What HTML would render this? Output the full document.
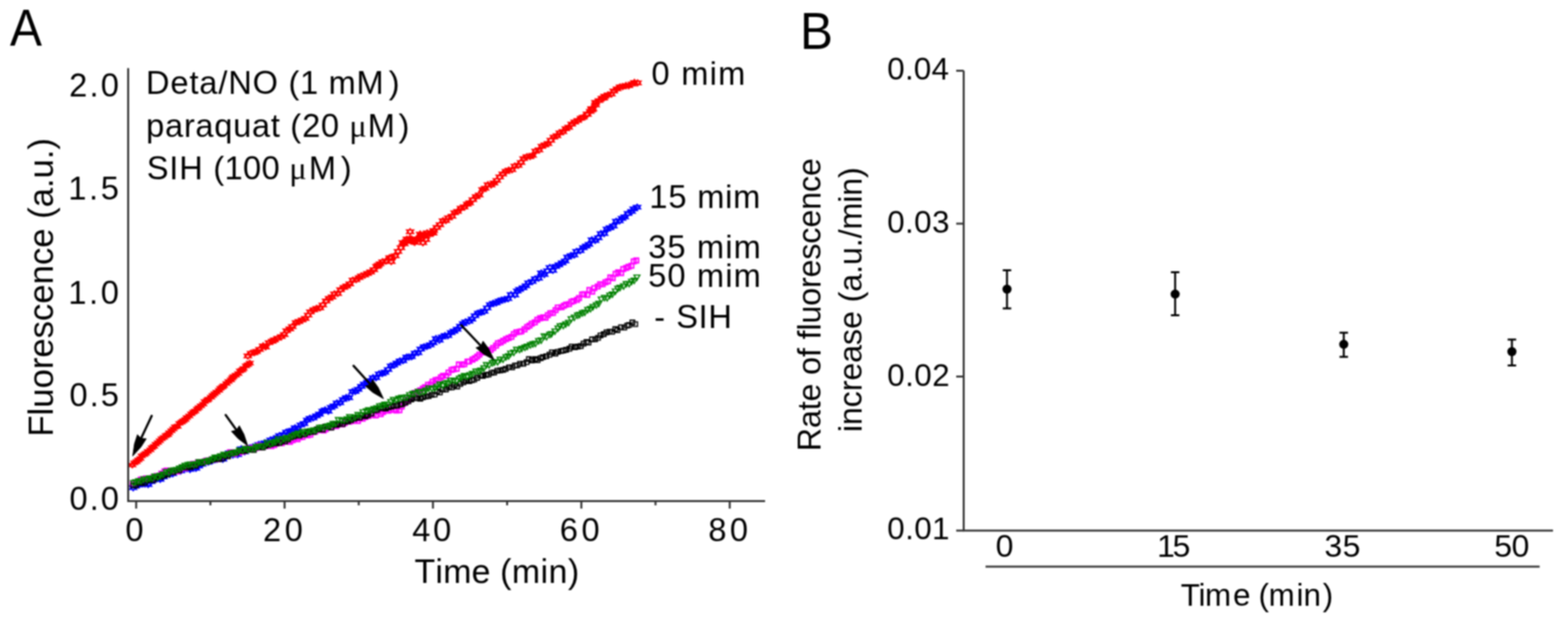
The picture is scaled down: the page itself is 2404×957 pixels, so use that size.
<!DOCTYPE html>
<html><head><meta charset="utf-8"><title>Figure</title>
<style>
html,body{margin:0;padding:0;background:#fff;}
svg{display:block;}
.wrap{filter:blur(1px);width:2404px;height:957px;overflow:hidden;}
text{font-family:"Liberation Sans", Arial, sans-serif;fill:#000;}
</style></head>
<body><div class="wrap">
<svg width="2404" height="957" viewBox="0 0 2404 957">
<rect width="2404" height="957" fill="#fff"/>
<g>
<path d="M202.9,709.5L207.4,715.4L198.4,715.4ZM202.9,717.0L207.4,711.1L198.4,711.1ZM205.9,706.2L210.4,712.1L201.4,712.1ZM205.9,713.7L210.4,707.8L201.4,707.8ZM209.4,704.2L213.9,710.2L204.9,710.2ZM209.4,711.8L213.9,705.8L204.9,705.8ZM212.1,701.6L216.6,707.5L207.6,707.5ZM212.1,709.2L216.6,703.2L207.6,703.2ZM215.2,699.2L219.7,705.2L210.7,705.2ZM215.2,706.8L219.7,700.9L210.7,700.9ZM217.3,695.4L221.8,701.3L212.8,701.3ZM217.3,702.9L221.8,697.0L212.8,697.0ZM221.1,693.4L225.6,699.3L216.6,699.3ZM221.1,700.9L225.6,695.0L216.6,695.0ZM223.7,691.2L228.2,697.2L219.2,697.2ZM223.7,698.8L228.2,692.9L219.2,692.9ZM226.7,688.6L231.2,694.5L222.2,694.5ZM226.7,696.1L231.2,690.2L222.2,690.2ZM230.5,686.1L235.0,692.0L226.0,692.0ZM230.5,693.6L235.0,687.7L226.0,687.7ZM232.9,682.8L237.4,688.7L228.4,688.7ZM232.9,690.4L237.4,684.4L228.4,684.4ZM236.1,680.9L240.6,686.8L231.6,686.8ZM236.1,688.4L240.6,682.5L231.6,682.5ZM238.8,677.5L243.3,683.4L234.3,683.4ZM238.8,685.0L243.3,679.1L234.3,679.1ZM242.1,675.0L246.6,680.9L237.6,680.9ZM242.1,682.5L246.6,676.6L237.6,676.6ZM245.0,672.0L249.5,678.0L240.5,678.0ZM245.0,679.6L249.5,673.6L240.5,673.6ZM247.9,669.1L252.4,675.1L243.4,675.1ZM247.9,676.7L252.4,670.8L243.4,670.8ZM251.2,667.1L255.7,673.1L246.7,673.1ZM251.2,674.7L255.7,668.8L246.7,668.8ZM254.3,664.2L258.8,670.2L249.8,670.2ZM254.3,671.8L258.8,665.8L249.8,665.8ZM257.6,662.8L262.1,668.8L253.1,668.8ZM257.6,670.4L262.1,664.4L253.1,664.4ZM259.5,659.8L264.0,665.7L255.0,665.7ZM259.5,667.4L264.0,661.4L255.0,661.4ZM262.8,656.8L267.3,662.8L258.3,662.8ZM262.8,664.4L267.3,658.4L258.3,658.4ZM265.8,654.0L270.3,660.0L261.3,660.0ZM265.8,661.6L270.3,655.7L261.3,655.7ZM268.4,650.9L272.9,656.8L263.9,656.8ZM268.4,658.5L272.9,652.5L263.9,652.5ZM272.2,650.0L276.7,656.0L267.7,656.0ZM272.2,657.6L276.7,651.7L267.7,651.7ZM275.1,645.5L279.6,651.4L270.6,651.4ZM275.1,653.0L279.6,647.1L270.6,647.1ZM278.4,643.6L282.9,649.5L273.9,649.5ZM278.4,651.1L282.9,645.2L273.9,645.2ZM281.1,641.6L285.6,647.5L276.6,647.5ZM281.1,649.1L285.6,643.2L276.6,643.2ZM284.2,639.7L288.7,645.6L279.7,645.6ZM284.2,647.3L288.7,641.3L279.7,641.3ZM286.4,636.6L290.9,642.5L281.9,642.5ZM286.4,644.1L290.9,638.2L281.9,638.2ZM290.2,634.2L294.7,640.1L285.7,640.1ZM290.2,641.7L294.7,635.8L285.7,635.8ZM293.3,630.8L297.8,636.7L288.8,636.7ZM293.3,638.3L297.8,632.4L288.8,632.4ZM296.4,628.4L300.9,634.3L291.9,634.3ZM296.4,636.0L300.9,630.0L291.9,630.0ZM299.2,626.7L303.7,632.6L294.7,632.6ZM299.2,634.2L303.7,628.3L294.7,628.3ZM302.3,623.4L306.8,629.4L297.8,629.4ZM302.3,631.0L306.8,625.1L297.8,625.1ZM304.7,621.2L309.2,627.2L300.2,627.2ZM304.7,628.8L309.2,622.9L300.2,622.9ZM308.0,618.6L312.5,624.5L303.5,624.5ZM308.0,626.1L312.5,620.2L303.5,620.2ZM311.6,615.9L316.1,621.9L307.1,621.9ZM311.6,623.5L316.1,617.6L307.1,617.6ZM313.9,612.2L318.4,618.1L309.4,618.1ZM313.9,619.7L318.4,613.8L309.4,613.8ZM317.6,610.1L322.1,616.0L313.1,616.0ZM317.6,617.7L322.1,611.7L313.1,611.7ZM319.5,608.3L324.0,614.2L315.0,614.2ZM319.5,615.8L324.0,609.9L315.0,609.9ZM323.5,605.4L328.0,611.3L319.0,611.3ZM323.5,612.9L328.0,607.0L319.0,607.0ZM326.1,602.6L330.6,608.6L321.6,608.6ZM326.1,610.2L330.6,604.2L321.6,604.2ZM328.9,600.1L333.4,606.1L324.4,606.1ZM328.9,607.7L333.4,601.7L324.4,601.7ZM332.0,597.5L336.5,603.5L327.5,603.5ZM332.0,605.1L336.5,599.1L327.5,599.1ZM335.8,594.9L340.3,600.8L331.3,600.8ZM335.8,602.5L340.3,596.5L331.3,596.5ZM337.9,591.8L342.4,597.7L333.4,597.7ZM337.9,599.4L342.4,593.4L333.4,593.4ZM340.9,589.9L345.4,595.8L336.4,595.8ZM340.9,597.4L345.4,591.5L336.4,591.5ZM343.0,587.7L347.5,593.7L338.5,593.7ZM343.0,595.3L347.5,589.4L338.5,589.4ZM347.2,584.3L351.7,590.3L342.7,590.3ZM347.2,591.9L351.7,586.0L342.7,586.0ZM350.3,581.4L354.8,587.3L345.8,587.3ZM350.3,588.9L354.8,583.0L345.8,583.0ZM354.0,578.7L358.5,584.7L349.5,584.7ZM354.0,586.3L358.5,580.4L349.5,580.4ZM356.0,576.1L360.5,582.1L351.5,582.1ZM356.0,583.7L360.5,577.7L351.5,577.7ZM357.9,573.8L362.4,579.7L353.4,579.7ZM357.9,581.3L362.4,575.4L353.4,575.4ZM361.5,571.7L366.0,577.6L357.0,577.6ZM361.5,579.3L366.0,573.3L357.0,573.3ZM365.3,569.1L369.8,575.0L360.8,575.0ZM365.3,576.6L369.8,570.7L360.8,570.7ZM367.9,565.1L372.4,571.1L363.4,571.1ZM367.9,572.7L372.4,566.7L363.4,566.7ZM371.4,563.7L375.9,569.6L366.9,569.6ZM371.4,571.2L375.9,565.3L366.9,565.3ZM373.4,561.3L377.9,567.3L368.9,567.3ZM373.4,568.9L377.9,562.9L368.9,562.9ZM377.1,557.4L381.6,563.4L372.6,563.4ZM377.1,565.0L381.6,559.0L372.6,559.0ZM380.1,555.5L384.6,561.4L375.6,561.4ZM380.1,563.0L384.6,557.1L375.6,557.1ZM383.0,553.0L387.5,559.0L378.5,559.0ZM383.0,560.6L387.5,554.6L378.5,554.6Z" fill="none" stroke="#ff0000" stroke-width="2.4"/>
<path d="M379.9,541.4L385.4,548.6L374.4,548.6ZM379.9,550.6L385.4,543.3L374.4,543.3ZM385.0,537.2L390.5,544.5L379.5,544.5ZM385.0,546.4L390.5,539.2L379.5,539.2ZM389.5,536.2L395.0,543.5L384.0,543.5ZM389.5,545.5L395.0,538.2L384.0,538.2ZM393.2,534.5L398.7,541.7L387.7,541.7ZM393.2,543.7L398.7,536.5L387.7,536.5ZM398.0,531.4L403.5,538.6L392.5,538.6ZM398.0,540.6L403.5,533.3L392.5,533.3ZM403.5,525.9L409.0,533.1L398.0,533.1ZM403.5,535.1L409.0,527.9L398.0,527.9ZM407.2,527.4L412.7,534.7L401.7,534.7ZM407.2,536.7L412.7,529.4L401.7,529.4ZM412.5,520.9L418.0,528.1L407.0,528.1ZM412.5,530.1L418.0,522.9L407.0,522.9ZM417.4,518.7L422.9,526.0L411.9,526.0ZM417.4,527.9L422.9,520.7L411.9,520.7ZM420.6,516.8L426.1,524.0L415.1,524.0ZM420.6,526.0L426.1,518.8L415.1,518.8ZM425.8,514.2L431.3,521.4L420.3,521.4ZM425.8,523.4L431.3,516.1L420.3,516.1ZM431.2,511.6L436.7,518.9L425.7,518.9ZM431.2,520.9L436.7,513.6L425.7,513.6ZM435.8,508.5L441.3,515.7L430.3,515.7ZM435.8,517.7L441.3,510.4L430.3,510.4ZM439.5,502.6L445.0,509.9L434.0,509.9ZM439.5,511.8L445.0,504.6L434.0,504.6ZM444.4,499.8L449.9,507.0L438.9,507.0ZM444.4,509.0L449.9,501.8L438.9,501.8ZM448.1,496.2L453.6,503.5L442.6,503.5ZM448.1,505.5L453.6,498.2L442.6,498.2ZM453.9,490.4L459.4,497.6L448.4,497.6ZM453.9,499.6L459.4,492.3L448.4,492.3ZM458.2,488.5L463.7,495.8L452.7,495.8ZM458.2,497.8L463.7,490.5L452.7,490.5ZM463.3,486.2L468.8,493.4L457.8,493.4ZM463.3,495.4L468.8,488.1L457.8,488.1ZM468.0,483.8L473.5,491.1L462.5,491.1ZM468.0,493.0L473.5,485.8L462.5,485.8ZM472.4,478.6L477.9,485.9L466.9,485.9ZM472.4,487.9L477.9,480.6L466.9,480.6ZM475.8,473.7L481.3,481.0L470.3,481.0ZM475.8,483.0L481.3,475.7L470.3,475.7ZM481.2,470.5L486.7,477.7L475.7,477.7ZM481.2,479.7L486.7,472.5L475.7,472.5ZM485.6,468.4L491.1,475.7L480.1,475.7ZM485.6,477.7L491.1,470.4L480.1,470.4ZM490.4,467.4L495.9,474.7L484.9,474.7ZM490.4,476.6L495.9,469.4L484.9,469.4ZM494.9,463.1L500.4,470.3L489.4,470.3ZM494.9,472.3L500.4,465.1L489.4,465.1ZM500.0,457.1L505.5,464.3L494.5,464.3ZM500.0,466.3L505.5,459.0L494.5,459.0ZM504.6,452.9L510.1,460.2L499.1,460.2ZM504.6,462.2L510.1,454.9L499.1,454.9ZM509.1,450.8L514.6,458.0L503.6,458.0ZM509.1,460.0L514.6,452.7L503.6,452.7ZM512.8,446.1L518.3,453.4L507.3,453.4ZM512.8,455.4L518.3,448.1L507.3,448.1ZM517.8,445.5L523.3,452.7L512.3,452.7ZM517.8,454.7L523.3,447.4L512.3,447.4ZM522.0,439.8L527.5,447.0L516.5,447.0ZM522.0,449.0L527.5,441.8L516.5,441.8ZM527.3,436.1L532.8,443.4L521.8,443.4ZM527.3,445.4L532.8,438.1L521.8,438.1ZM531.5,434.1L537.0,441.3L526.0,441.3ZM531.5,443.3L537.0,436.0L526.0,436.0ZM536.3,430.9L541.8,438.1L530.8,438.1ZM536.3,440.1L541.8,432.8L530.8,432.8ZM541.1,425.0L546.6,432.3L535.6,432.3ZM541.1,434.3L546.6,427.0L535.6,427.0ZM545.9,424.2L551.4,431.5L540.4,431.5ZM545.9,433.5L551.4,426.2L540.4,426.2ZM550.7,421.1L556.2,428.3L545.2,428.3ZM550.7,430.3L556.2,423.1L545.2,423.1ZM554.0,418.6L559.5,425.9L548.5,425.9ZM554.0,427.9L559.5,420.6L548.5,420.6ZM559.3,417.1L564.8,424.4L553.8,424.4ZM559.3,426.4L564.8,419.1L553.8,419.1ZM563.3,414.7L568.8,422.0L557.8,422.0ZM563.3,423.9L568.8,416.7L557.8,416.7ZM568.2,412.5L573.7,419.7L562.7,419.7ZM568.2,421.7L573.7,414.4L562.7,414.4ZM573.2,409.0L578.7,416.2L567.7,416.2ZM573.2,418.2L578.7,410.9L567.7,410.9ZM577.4,404.2L582.9,411.4L571.9,411.4ZM577.4,413.4L582.9,406.1L571.9,406.1ZM582.7,400.0L588.2,407.3L577.2,407.3ZM582.7,409.3L588.2,402.0L577.2,402.0ZM586.6,396.9L592.1,404.2L581.1,404.2ZM586.6,406.1L592.1,398.9L581.1,398.9ZM591.6,395.7L597.1,402.9L586.1,402.9ZM591.6,404.9L597.1,397.7L586.1,397.7ZM597.3,390.6L602.8,397.9L591.8,397.9ZM597.3,399.8L602.8,392.6L591.8,392.6ZM599.8,390.6L605.3,397.8L594.3,397.8ZM599.8,399.8L605.3,392.5L594.3,392.5ZM606.1,387.8L611.6,395.0L600.6,395.0ZM606.1,397.0L611.6,389.8L600.6,389.8ZM610.2,381.0L615.7,388.2L604.7,388.2ZM610.2,390.2L615.7,383.0L604.7,383.0ZM614.7,375.3L620.2,382.6L609.2,382.6ZM614.7,384.6L620.2,377.3L609.2,377.3ZM619.9,369.3L625.4,376.5L614.4,376.5ZM619.9,378.5L625.4,371.3L614.4,371.3ZM623.9,362.1L629.4,369.3L618.4,369.3ZM623.9,371.3L629.4,364.0L618.4,364.0ZM628.0,361.7L633.5,369.0L622.5,369.0ZM628.0,371.0L633.5,363.7L622.5,363.7ZM632.5,363.7L638.0,370.9L627.0,370.9ZM632.5,372.9L638.0,365.6L627.0,365.6ZM638.0,363.0L643.5,370.3L632.5,370.3ZM638.0,372.3L643.5,365.0L632.5,365.0ZM641.9,361.8L647.4,369.0L636.4,369.0ZM641.9,371.0L647.4,363.7L636.4,363.7ZM646.5,357.0L652.0,364.3L641.0,364.3ZM646.5,366.3L652.0,359.0L641.0,359.0ZM651.1,357.8L656.6,365.1L645.6,365.1ZM651.1,367.0L656.6,359.8L645.6,359.8ZM656.2,354.9L661.7,362.2L650.7,362.2ZM656.2,364.1L661.7,356.9L650.7,356.9ZM660.5,352.1L666.0,359.4L655.0,359.4ZM660.5,361.3L666.0,354.1L655.0,354.1ZM664.9,349.0L670.4,356.3L659.4,356.3ZM664.9,358.3L670.4,351.0L659.4,351.0ZM669.8,344.3L675.3,351.5L664.3,351.5ZM669.8,353.5L675.3,346.3L664.3,346.3ZM674.5,340.0L680.0,347.2L669.0,347.2ZM674.5,349.2L680.0,342.0L669.0,342.0ZM679.2,333.9L684.7,341.2L673.7,341.2ZM679.2,343.2L684.7,335.9L673.7,335.9ZM683.5,333.7L689.0,340.9L678.0,340.9ZM683.5,342.9L689.0,335.7L678.0,335.7ZM687.4,329.5L692.9,336.8L681.9,336.8ZM687.4,338.7L692.9,331.5L681.9,331.5ZM693.1,327.0L698.6,334.3L687.6,334.3ZM693.1,336.3L698.6,329.0L687.6,329.0ZM697.0,321.6L702.5,328.8L691.5,328.8ZM697.0,330.8L702.5,323.6L691.5,323.6ZM701.5,319.6L707.0,326.9L696.0,326.9ZM701.5,328.8L707.0,321.6L696.0,321.6ZM706.8,314.8L712.3,322.1L701.3,322.1ZM706.8,324.1L712.3,316.8L701.3,316.8ZM711.5,312.8L717.0,320.1L706.0,320.1ZM711.5,322.1L717.0,314.8L706.0,314.8ZM716.5,308.6L722.0,315.8L711.0,315.8ZM716.5,317.8L722.0,310.5L711.0,310.5ZM720.0,306.4L725.5,313.7L714.5,313.7ZM720.0,315.6L725.5,308.4L714.5,308.4ZM724.9,301.6L730.4,308.9L719.4,308.9ZM724.9,310.9L730.4,303.6L719.4,303.6ZM730.0,296.9L735.5,304.2L724.5,304.2ZM730.0,306.2L735.5,298.9L724.5,298.9ZM734.7,294.4L740.2,301.6L729.2,301.6ZM734.7,303.6L740.2,296.4L729.2,296.4ZM739.8,286.1L745.3,293.4L734.3,293.4ZM739.8,295.4L745.3,288.1L734.3,288.1ZM743.8,284.2L749.3,291.4L738.3,291.4ZM743.8,293.4L749.3,286.1L738.3,286.1ZM748.1,278.7L753.6,286.0L742.6,286.0ZM748.1,288.0L753.6,280.7L742.6,280.7ZM752.9,279.1L758.4,286.4L747.4,286.4ZM752.9,288.4L758.4,281.1L747.4,281.1ZM757.4,276.0L762.9,283.3L751.9,283.3ZM757.4,285.3L762.9,278.0L751.9,278.0ZM761.7,272.1L767.2,279.3L756.2,279.3ZM761.7,281.3L767.2,274.1L756.2,274.1ZM766.1,266.8L771.6,274.1L760.6,274.1ZM766.1,276.1L771.6,268.8L760.6,268.8ZM770.8,262.2L776.3,269.5L765.3,269.5ZM770.8,271.4L776.3,264.2L765.3,264.2ZM775.8,258.3L781.3,265.6L770.3,265.6ZM775.8,267.5L781.3,260.3L770.3,260.3ZM780.1,256.4L785.6,263.6L774.6,263.6ZM780.1,265.6L785.6,258.4L774.6,258.4ZM785.0,255.7L790.5,262.9L779.5,262.9ZM785.0,264.9L790.5,257.7L779.5,257.7ZM789.3,250.1L794.8,257.4L783.8,257.4ZM789.3,259.3L794.8,252.1L783.8,252.1ZM794.4,248.9L799.9,256.2L788.9,256.2ZM794.4,258.2L799.9,250.9L788.9,250.9ZM798.9,244.6L804.4,251.9L793.4,251.9ZM798.9,253.9L804.4,246.6L793.4,246.6ZM802.8,238.7L808.3,245.9L797.3,245.9ZM802.8,247.9L808.3,240.7L797.3,240.7ZM807.8,235.9L813.3,243.1L802.3,243.1ZM807.8,245.1L813.3,237.8L802.3,237.8ZM812.7,235.5L818.2,242.8L807.2,242.8ZM812.7,244.7L818.2,237.5L807.2,237.5ZM816.5,233.6L822.0,240.9L811.0,240.9ZM816.5,242.9L822.0,235.6L811.0,235.6ZM821.2,227.2L826.7,234.5L815.7,234.5ZM821.2,236.5L826.7,229.2L815.7,229.2ZM826.4,225.3L831.9,232.6L820.9,232.6ZM826.4,234.5L831.9,227.3L820.9,227.3ZM830.8,219.7L836.3,227.0L825.3,227.0ZM830.8,229.0L836.3,221.7L825.3,221.7ZM835.4,217.6L840.9,224.9L829.9,224.9ZM835.4,226.9L840.9,219.6L829.9,219.6ZM840.1,215.4L845.6,222.7L834.6,222.7ZM840.1,224.7L845.6,217.4L834.6,217.4ZM844.5,210.4L850.0,217.7L839.0,217.7ZM844.5,219.6L850.0,212.4L839.0,212.4ZM849.2,205.7L854.7,212.9L843.7,212.9ZM849.2,214.9L854.7,207.6L843.7,207.6ZM853.9,203.4L859.4,210.7L848.4,210.7ZM853.9,212.7L859.4,205.4L848.4,205.4ZM858.3,199.1L863.8,206.4L852.8,206.4ZM858.3,208.4L863.8,201.1L852.8,201.1ZM863.0,197.3L868.5,204.6L857.5,204.6ZM863.0,206.6L868.5,199.3L857.5,199.3ZM867.6,192.8L873.1,200.1L862.1,200.1ZM867.6,202.0L873.1,194.8L862.1,194.8ZM871.9,190.5L877.4,197.7L866.4,197.7ZM871.9,199.7L877.4,192.5L866.4,192.5ZM876.5,185.8L882.0,193.0L871.0,193.0ZM876.5,195.0L882.0,187.8L871.0,187.8ZM881.2,182.4L886.7,189.7L875.7,189.7ZM881.2,191.7L886.7,184.4L875.7,184.4ZM885.8,180.1L891.3,187.4L880.3,187.4ZM885.8,189.3L891.3,182.1L880.3,182.1ZM891.0,176.7L896.5,183.9L885.5,183.9ZM891.0,185.9L896.5,178.7L885.5,178.7ZM894.2,175.2L899.7,182.4L888.7,182.4ZM894.2,184.4L899.7,177.1L888.7,177.1ZM900.0,170.3L905.5,177.5L894.5,177.5ZM900.0,179.5L905.5,172.3L894.5,172.3ZM904.9,166.3L910.4,173.6L899.4,173.6ZM904.9,175.6L910.4,168.3L899.4,168.3ZM909.2,162.2L914.7,169.5L903.7,169.5ZM909.2,171.5L914.7,164.2L903.7,164.2ZM913.2,156.3L918.7,163.6L907.7,163.6ZM913.2,165.6L918.7,158.3L907.7,158.3ZM918.3,149.6L923.8,156.9L912.8,156.9ZM918.3,158.8L923.8,151.6L912.8,151.6ZM922.8,146.2L928.3,153.4L917.3,153.4ZM922.8,155.4L928.3,148.2L917.3,148.2ZM927.1,143.0L932.6,150.2L921.6,150.2ZM927.1,152.2L932.6,145.0L921.6,145.0ZM932.3,141.0L937.8,148.3L926.8,148.3ZM932.3,150.3L937.8,143.0L926.8,143.0ZM937.3,139.5L942.8,146.8L931.8,146.8ZM937.3,148.8L942.8,141.5L931.8,141.5ZM941.0,135.0L946.5,142.2L935.5,142.2ZM941.0,144.2L946.5,136.9L935.5,136.9ZM946.1,131.6L951.6,138.9L940.6,138.9ZM946.1,140.9L951.6,133.6L940.6,133.6ZM950.7,128.8L956.2,136.0L945.2,136.0ZM950.7,138.0L956.2,130.8L945.2,130.8ZM954.7,128.3L960.2,135.5L949.2,135.5ZM954.7,137.5L960.2,130.2L949.2,130.2ZM959.7,126.6L965.2,133.9L954.2,133.9ZM959.7,135.9L965.2,128.6L954.2,128.6ZM964.0,126.8L969.5,134.1L958.5,134.1ZM964.0,136.1L969.5,128.8L958.5,128.8ZM969.1,124.3L974.6,131.6L963.6,131.6ZM969.1,133.5L974.6,126.3L963.6,126.3ZM972.7,121.9L978.2,129.2L967.2,129.2ZM972.7,131.1L978.2,123.9L967.2,123.9ZM977.5,122.5L983.0,129.7L972.0,129.7ZM977.5,131.7L983.0,124.4L972.0,124.4ZM648.4,367.7L653.9,374.9L642.9,374.9ZM648.4,376.9L653.9,369.7L642.9,369.7ZM644.1,354.4L649.6,361.7L638.6,361.7ZM644.1,363.7L649.6,356.4L638.6,356.4ZM653.1,362.7L658.6,370.0L647.6,370.0ZM653.1,372.0L658.6,364.7L647.6,364.7ZM638.9,363.2L644.4,370.5L633.4,370.5ZM638.9,372.5L644.4,365.2L633.4,365.2ZM654.9,352.5L660.4,359.7L649.4,359.7ZM654.9,361.7L660.4,354.4L649.4,354.4ZM617.6,367.4L623.1,374.7L612.1,374.7ZM617.6,376.7L623.1,369.4L612.1,369.4ZM664.1,352.8L669.6,360.1L658.6,360.1ZM664.1,362.1L669.6,354.8L658.6,354.8ZM633.2,365.8L638.7,373.0L627.7,373.0ZM633.2,375.0L638.7,367.8L627.7,367.8ZM630.8,361.8L636.3,369.0L625.3,369.0ZM630.8,371.0L636.3,363.8L625.3,363.8ZM628.8,350.7L634.3,358.0L623.3,358.0ZM628.8,360.0L634.3,352.7L623.3,352.7ZM649.8,355.9L655.3,363.2L644.3,363.2ZM649.8,365.2L655.3,357.9L644.3,357.9ZM635.9,367.1L641.4,374.3L630.4,374.3ZM635.9,376.3L641.4,369.0L630.4,369.0ZM623.9,365.6L629.4,372.9L618.4,372.9ZM623.9,374.9L629.4,367.6L618.4,367.6ZM663.0,352.6L668.5,359.8L657.5,359.8ZM663.0,361.8L668.5,354.5L657.5,354.5ZM579.9,402.2L585.4,409.5L574.4,409.5ZM579.9,411.4L585.4,404.2L574.4,404.2ZM599.9,396.6L605.4,403.8L594.4,403.8ZM599.9,405.8L605.4,398.5L594.4,398.5ZM578.0,403.9L583.5,411.2L572.5,411.2ZM578.0,413.2L583.5,405.9L572.5,405.9ZM563.6,414.7L569.1,422.0L558.1,422.0ZM563.6,423.9L569.1,416.7L558.1,416.7ZM907.4,164.0L912.9,171.3L901.9,171.3ZM907.4,173.2L912.9,166.0L901.9,166.0ZM900.7,170.8L906.2,178.1L895.2,178.1ZM900.7,180.1L906.2,172.8L895.2,172.8ZM925.6,145.9L931.1,153.1L920.1,153.1ZM925.6,155.1L931.1,147.8L920.1,147.8ZM913.0,152.5L918.5,159.8L907.5,159.8ZM913.0,161.8L918.5,154.5L907.5,154.5ZM913.1,152.8L918.6,160.1L907.6,160.1ZM913.1,162.1L918.6,154.8L907.6,154.8ZM907.1,162.0L912.6,169.3L901.6,169.3ZM907.1,171.3L912.6,164.0L901.6,164.0Z" fill="none" stroke="#ff0000" stroke-width="1.9"/>
<path d="M204.2,743.3L209.7,750.6L198.7,750.6ZM204.2,752.6L209.7,745.3L198.7,745.3ZM208.6,739.2L214.1,746.5L203.1,746.5ZM208.6,748.4L214.1,741.2L203.1,741.2ZM213.2,739.1L218.7,746.4L207.7,746.4ZM213.2,748.4L218.7,741.1L207.7,741.1ZM218.1,737.5L223.6,744.8L212.6,744.8ZM218.1,746.7L223.6,739.5L212.6,739.5ZM222.5,737.5L228.0,744.8L217.0,744.8ZM222.5,746.8L228.0,739.5L217.0,739.5ZM227.1,738.4L232.6,745.7L221.6,745.7ZM227.1,747.7L232.6,740.4L221.6,740.4ZM231.6,734.1L237.1,741.4L226.1,741.4ZM231.6,743.4L237.1,736.1L226.1,736.1ZM236.8,730.7L242.3,738.0L231.3,738.0ZM236.8,739.9L242.3,732.7L231.3,732.7ZM241.1,729.5L246.6,736.8L235.6,736.8ZM241.1,738.8L246.6,731.5L235.6,731.5ZM245.5,730.6L251.0,737.9L240.0,737.9ZM245.5,739.8L251.0,732.6L240.0,732.6ZM250.6,726.8L256.1,734.1L245.1,734.1ZM250.6,736.0L256.1,728.8L245.1,728.8ZM254.1,723.6L259.6,730.9L248.6,730.9ZM254.1,732.9L259.6,725.6L248.6,725.6ZM259.9,723.1L265.4,730.4L254.4,730.4ZM259.9,732.3L265.4,725.1L254.4,725.1ZM264.7,721.8L270.2,729.1L259.2,729.1ZM264.7,731.1L270.2,723.8L259.2,723.8ZM268.6,718.7L274.1,725.9L263.1,725.9ZM268.6,727.9L274.1,720.7L263.1,720.7ZM272.5,717.1L278.0,724.4L267.0,724.4ZM272.5,726.4L278.0,719.1L267.0,719.1ZM277.1,717.6L282.6,724.8L271.6,724.8ZM277.1,726.8L282.6,719.5L271.6,719.5ZM282.4,714.7L287.9,722.0L276.9,722.0ZM282.4,724.0L287.9,716.7L276.9,716.7ZM286.7,713.9L292.2,721.2L281.2,721.2ZM286.7,723.1L292.2,715.9L281.2,715.9ZM291.3,715.3L296.8,722.6L285.8,722.6ZM291.3,724.6L296.8,717.3L285.8,717.3ZM296.0,711.4L301.5,718.7L290.5,718.7ZM296.0,720.7L301.5,713.4L290.5,713.4ZM300.4,713.6L305.9,720.8L294.9,720.8ZM300.4,722.8L305.9,715.6L294.9,715.6ZM304.6,710.1L310.1,717.3L299.1,717.3ZM304.6,719.3L310.1,712.1L299.1,712.1ZM309.9,707.3L315.4,714.5L304.4,714.5ZM309.9,716.5L315.4,709.3L304.4,709.3ZM314.4,703.1L319.9,710.4L308.9,710.4ZM314.4,712.4L319.9,705.1L308.9,705.1ZM319.4,703.9L324.9,711.2L313.9,711.2ZM319.4,713.1L324.9,705.9L313.9,705.9ZM323.8,702.2L329.3,709.5L318.3,709.5ZM323.8,711.4L329.3,704.2L318.3,704.2ZM328.2,699.6L333.7,706.9L322.7,706.9ZM328.2,708.8L333.7,701.6L322.7,701.6ZM332.9,699.7L338.4,706.9L327.4,706.9ZM332.9,708.9L338.4,701.7L327.4,701.7ZM338.1,698.5L343.6,705.8L332.6,705.8ZM338.1,707.8L343.6,700.5L332.6,700.5ZM341.7,699.6L347.2,706.9L336.2,706.9ZM341.7,708.9L347.2,701.6L336.2,701.6ZM347.0,695.3L352.5,702.6L341.5,702.6ZM347.0,704.6L352.5,697.3L341.5,697.3ZM351.4,690.0L356.9,697.3L345.9,697.3ZM351.4,699.3L356.9,692.0L345.9,692.0ZM356.9,693.3L362.4,700.5L351.4,700.5ZM356.9,702.5L362.4,695.2L351.4,695.2ZM360.8,691.6L366.3,698.9L355.3,698.9ZM360.8,700.9L366.3,693.6L355.3,693.6ZM364.5,692.5L370.0,699.8L359.0,699.8ZM364.5,701.8L370.0,694.5L359.0,694.5ZM369.9,683.8L375.4,691.0L364.4,691.0ZM369.9,693.0L375.4,685.7L364.4,685.7ZM375.1,688.3L380.6,695.5L369.6,695.5ZM375.1,697.5L380.6,690.3L369.6,690.3ZM378.6,685.3L384.1,692.6L373.1,692.6ZM378.6,694.6L384.1,687.3L373.1,687.3ZM383.7,682.2L389.2,689.4L378.2,689.4ZM383.7,691.4L389.2,684.1L378.2,684.1ZM387.9,680.9L393.4,688.2L382.4,688.2ZM387.9,690.2L393.4,682.9L382.4,682.9ZM392.5,679.9L398.0,687.2L387.0,687.2ZM392.5,689.1L398.0,681.9L387.0,681.9ZM396.7,677.1L402.2,684.3L391.2,684.3ZM396.7,686.3L402.2,679.1L391.2,679.1ZM401.4,676.5L406.9,683.8L395.9,683.8ZM401.4,685.8L406.9,678.5L395.9,678.5ZM405.8,674.6L411.3,681.9L400.3,681.9ZM405.8,683.9L411.3,676.6L400.3,676.6ZM411.4,673.3L416.9,680.6L405.9,680.6ZM411.4,682.5L416.9,675.3L405.9,675.3ZM415.0,670.2L420.5,677.5L409.5,677.5ZM415.0,679.4L420.5,672.2L409.5,672.2ZM420.1,668.6L425.6,675.9L414.6,675.9ZM420.1,677.8L425.6,670.6L414.6,670.6ZM425.1,666.4L430.6,673.7L419.6,673.7ZM425.1,675.7L430.6,668.4L419.6,668.4ZM428.5,663.6L434.0,670.8L423.0,670.8ZM428.5,672.8L434.0,665.5L423.0,665.5ZM434.5,661.9L440.0,669.2L429.0,669.2ZM434.5,671.1L440.0,663.9L429.0,663.9ZM439.2,658.2L444.7,665.5L433.7,665.5ZM439.2,667.5L444.7,660.2L433.7,660.2ZM443.9,657.0L449.4,664.3L438.4,664.3ZM443.9,666.2L449.4,659.0L438.4,659.0ZM447.5,655.6L453.0,662.8L442.0,662.8ZM447.5,664.8L453.0,657.6L442.0,657.6ZM452.4,651.5L457.9,658.7L446.9,658.7ZM452.4,660.7L457.9,653.5L446.9,653.5ZM456.7,653.0L462.2,660.3L451.2,660.3ZM456.7,662.3L462.2,655.0L451.2,655.0ZM461.2,647.2L466.7,654.4L455.7,654.4ZM461.2,656.4L466.7,649.2L455.7,649.2ZM466.1,644.9L471.6,652.2L460.6,652.2ZM466.1,654.2L471.6,646.9L460.6,646.9ZM471.1,639.6L476.6,646.8L465.6,646.8ZM471.1,648.8L476.6,641.6L465.6,641.6ZM475.2,636.9L480.7,644.2L469.7,644.2ZM475.2,646.2L480.7,638.9L469.7,638.9ZM480.0,636.2L485.5,643.5L474.5,643.5ZM480.0,645.5L485.5,638.2L474.5,638.2ZM485.2,633.1L490.7,640.4L479.7,640.4ZM485.2,642.3L490.7,635.1L479.7,635.1ZM489.7,630.5L495.2,637.7L484.2,637.7ZM489.7,639.7L495.2,632.5L484.2,632.5ZM494.8,626.0L500.3,633.2L489.3,633.2ZM494.8,635.2L500.3,628.0L489.3,628.0ZM498.4,624.1L503.9,631.4L492.9,631.4ZM498.4,633.4L503.9,626.1L492.9,626.1ZM503.3,625.9L508.8,633.2L497.8,633.2ZM503.3,635.1L508.8,627.9L497.8,627.9ZM507.6,620.2L513.1,627.5L502.1,627.5ZM507.6,629.5L513.1,622.2L502.1,622.2ZM511.8,618.0L517.3,625.2L506.3,625.2ZM511.8,627.2L517.3,619.9L506.3,619.9ZM516.7,613.4L522.2,620.7L511.2,620.7ZM516.7,622.7L522.2,615.4L511.2,615.4ZM521.1,613.2L526.6,620.4L515.6,620.4ZM521.1,622.4L526.6,615.1L515.6,615.1ZM526.0,608.1L531.5,615.4L520.5,615.4ZM526.0,617.4L531.5,610.1L520.5,610.1ZM530.9,605.1L536.4,612.4L525.4,612.4ZM530.9,614.3L536.4,607.1L525.4,607.1ZM534.9,605.3L540.4,612.5L529.4,612.5ZM534.9,614.5L540.4,607.2L529.4,607.2ZM540.6,595.9L546.1,603.2L535.1,603.2ZM540.6,605.2L546.1,597.9L535.1,597.9ZM544.6,595.7L550.1,603.0L539.1,603.0ZM544.6,605.0L550.1,597.7L539.1,597.7ZM549.0,592.4L554.5,599.7L543.5,599.7ZM549.0,601.7L554.5,594.4L543.5,594.4ZM554.1,587.9L559.6,595.2L548.6,595.2ZM554.1,597.2L559.6,589.9L548.6,589.9ZM558.3,584.5L563.8,591.8L552.8,591.8ZM558.3,593.8L563.8,586.5L552.8,586.5ZM563.3,581.7L568.8,588.9L557.8,588.9ZM563.3,590.9L568.8,583.6L557.8,583.6ZM567.2,579.3L572.7,586.6L561.7,586.6ZM567.2,588.5L572.7,581.3L561.7,581.3ZM572.0,574.6L577.5,581.9L566.5,581.9ZM572.0,583.9L577.5,576.6L566.5,576.6ZM576.5,574.6L582.0,581.9L571.0,581.9ZM576.5,583.9L582.0,576.6L571.0,576.6ZM581.3,568.9L586.8,576.2L575.8,576.2ZM581.3,578.1L586.8,570.9L575.8,570.9ZM586.0,568.2L591.5,575.5L580.5,575.5ZM586.0,577.4L591.5,570.2L580.5,570.2ZM590.2,566.3L595.7,573.6L584.7,573.6ZM590.2,575.5L595.7,568.3L584.7,568.3ZM595.0,562.1L600.5,569.4L589.5,569.4ZM595.0,571.3L600.5,564.1L589.5,564.1ZM599.5,556.7L605.0,564.0L594.0,564.0ZM599.5,566.0L605.0,558.7L594.0,558.7ZM603.7,555.4L609.2,562.6L598.2,562.6ZM603.7,564.6L609.2,557.4L598.2,557.4ZM608.4,552.3L613.9,559.5L602.9,559.5ZM608.4,561.5L613.9,554.2L602.9,554.2ZM613.3,548.9L618.8,556.2L607.8,556.2ZM613.3,558.2L618.8,550.9L607.8,550.9ZM617.7,548.4L623.2,555.7L612.2,555.7ZM617.7,557.7L623.2,550.4L612.2,550.4ZM623.5,543.0L629.0,550.3L618.0,550.3ZM623.5,552.3L629.0,545.0L618.0,545.0ZM626.9,542.9L632.4,550.2L621.4,550.2ZM626.9,552.1L632.4,544.9L621.4,544.9ZM630.8,542.3L636.3,549.6L625.3,549.6ZM630.8,551.6L636.3,544.3L625.3,544.3ZM636.4,537.0L641.9,544.2L630.9,544.2ZM636.4,546.2L641.9,538.9L630.9,538.9ZM641.0,536.2L646.5,543.5L635.5,543.5ZM641.0,545.5L646.5,538.2L635.5,538.2ZM644.9,530.8L650.4,538.0L639.4,538.0ZM644.9,540.0L650.4,532.7L639.4,532.7ZM650.3,527.3L655.8,534.5L644.8,534.5ZM650.3,536.5L655.8,529.2L644.8,529.2ZM654.2,526.7L659.7,533.9L648.7,533.9ZM654.2,535.9L659.7,528.6L648.7,528.6ZM659.7,524.4L665.2,531.6L654.2,531.6ZM659.7,533.6L665.2,526.3L654.2,526.3ZM664.2,520.9L669.7,528.2L658.7,528.2ZM664.2,530.2L669.7,522.9L658.7,522.9ZM668.5,514.7L674.0,522.0L663.0,522.0ZM668.5,523.9L674.0,516.7L663.0,516.7ZM673.6,517.1L679.1,524.4L668.1,524.4ZM673.6,526.4L679.1,519.1L668.1,519.1ZM678.0,512.1L683.5,519.4L672.5,519.4ZM678.0,521.3L683.5,514.1L672.5,514.1ZM682.3,510.1L687.8,517.3L676.8,517.3ZM682.3,519.3L687.8,512.0L676.8,512.0ZM686.8,510.1L692.3,517.4L681.3,517.4ZM686.8,519.4L692.3,512.1L681.3,512.1ZM691.7,505.5L697.2,512.8L686.2,512.8ZM691.7,514.7L697.2,507.5L686.2,507.5ZM695.9,503.3L701.4,510.5L690.4,510.5ZM695.9,512.5L701.4,505.3L690.4,505.3ZM700.9,500.4L706.4,507.6L695.4,507.6ZM700.9,509.6L706.4,502.3L695.4,502.3ZM705.8,495.8L711.3,503.1L700.3,503.1ZM705.8,505.0L711.3,497.8L700.3,497.8ZM710.2,491.8L715.7,499.1L704.7,499.1ZM710.2,501.1L715.7,493.8L704.7,493.8ZM713.8,489.1L719.3,496.3L708.3,496.3ZM713.8,498.3L719.3,491.1L708.3,491.1ZM719.2,488.0L724.7,495.3L713.7,495.3ZM719.2,497.2L724.7,490.0L713.7,490.0ZM723.6,484.7L729.1,492.0L718.1,492.0ZM723.6,493.9L729.1,486.7L718.1,486.7ZM728.2,479.6L733.7,486.8L722.7,486.8ZM728.2,488.8L733.7,481.6L722.7,481.6ZM733.3,475.7L738.8,482.9L727.8,482.9ZM733.3,484.9L738.8,477.7L727.8,477.7ZM737.2,474.4L742.7,481.7L731.7,481.7ZM737.2,483.6L742.7,476.4L731.7,476.4ZM742.3,472.9L747.8,480.1L736.8,480.1ZM742.3,482.1L747.8,474.8L736.8,474.8ZM746.9,467.6L752.4,474.9L741.4,474.9ZM746.9,476.9L752.4,469.6L741.4,469.6ZM751.5,462.7L757.0,469.9L746.0,469.9ZM751.5,471.9L757.0,464.6L746.0,464.6ZM756.3,460.6L761.8,467.9L750.8,467.9ZM756.3,469.9L761.8,462.6L750.8,462.6ZM760.8,459.9L766.3,467.1L755.3,467.1ZM760.8,469.1L766.3,461.8L755.3,461.8ZM765.1,457.2L770.6,464.5L759.6,464.5ZM765.1,466.5L770.6,459.2L759.6,459.2ZM769.1,455.7L774.6,462.9L763.6,462.9ZM769.1,464.9L774.6,457.7L763.6,457.7ZM774.0,454.6L779.5,461.8L768.5,461.8ZM774.0,463.8L779.5,456.5L768.5,456.5ZM778.9,453.3L784.4,460.6L773.4,460.6ZM778.9,462.6L784.4,455.3L773.4,455.3ZM783.5,447.4L789.0,454.6L778.0,454.6ZM783.5,456.6L789.0,449.3L778.0,449.3ZM789.3,447.8L794.8,455.1L783.8,455.1ZM789.3,457.0L794.8,449.8L783.8,449.8ZM793.0,441.8L798.5,449.0L787.5,449.0ZM793.0,451.0L798.5,443.7L787.5,443.7ZM796.5,439.3L802.0,446.5L791.0,446.5ZM796.5,448.5L802.0,441.3L791.0,441.3ZM802.0,436.7L807.5,444.0L796.5,444.0ZM802.0,446.0L807.5,438.7L796.5,438.7ZM806.4,433.6L811.9,440.9L800.9,440.9ZM806.4,442.9L811.9,435.6L800.9,435.6ZM810.3,429.2L815.8,436.4L804.8,436.4ZM810.3,438.4L815.8,431.2L804.8,431.2ZM816.1,427.1L821.6,434.4L810.6,434.4ZM816.1,436.3L821.6,429.1L810.6,429.1ZM820.6,423.1L826.1,430.3L815.1,430.3ZM820.6,432.3L826.1,425.0L815.1,425.0ZM825.8,421.9L831.3,429.2L820.3,429.2ZM825.8,431.2L831.3,423.9L820.3,423.9ZM829.9,414.1L835.4,421.3L824.4,421.3ZM829.9,423.3L835.4,416.0L824.4,416.0ZM834.5,416.4L840.0,423.6L829.0,423.6ZM834.5,425.6L840.0,418.4L829.0,418.4ZM839.2,410.7L844.7,418.0L833.7,418.0ZM839.2,420.0L844.7,412.7L833.7,412.7ZM843.0,405.7L848.5,413.0L837.5,413.0ZM843.0,414.9L848.5,407.7L837.5,407.7ZM847.7,409.9L853.2,417.2L842.2,417.2ZM847.7,419.1L853.2,411.9L842.2,411.9ZM852.3,403.9L857.8,411.2L846.8,411.2ZM852.3,413.2L857.8,405.9L846.8,405.9ZM856.8,401.4L862.3,408.7L851.3,408.7ZM856.8,410.7L862.3,403.4L851.3,403.4ZM861.9,398.5L867.4,405.8L856.4,405.8ZM861.9,407.8L867.4,400.5L856.4,400.5ZM866.5,395.7L872.0,402.9L861.0,402.9ZM866.5,404.9L872.0,397.6L861.0,397.6ZM870.1,389.8L875.6,397.1L864.6,397.1ZM870.1,399.1L875.6,391.8L864.6,391.8ZM875.6,387.4L881.1,394.6L870.1,394.6ZM875.6,396.6L881.1,389.4L870.1,389.4ZM880.2,386.3L885.7,393.6L874.7,393.6ZM880.2,395.6L885.7,388.3L874.7,388.3ZM884.0,381.1L889.5,388.3L878.5,388.3ZM884.0,390.3L889.5,383.0L878.5,383.0ZM889.6,379.7L895.1,387.0L884.1,387.0ZM889.6,389.0L895.1,381.7L884.1,381.7ZM894.4,375.2L899.9,382.5L888.9,382.5ZM894.4,384.4L899.9,377.2L888.9,377.2ZM898.8,372.9L904.3,380.1L893.3,380.1ZM898.8,382.1L904.3,374.8L893.3,374.8ZM903.0,370.1L908.5,377.4L897.5,377.4ZM903.0,379.4L908.5,372.1L897.5,372.1ZM907.5,363.2L913.0,370.5L902.0,370.5ZM907.5,372.5L913.0,365.2L902.0,365.2ZM912.4,364.3L917.9,371.5L906.9,371.5ZM912.4,373.5L917.9,366.3L906.9,366.3ZM917.3,360.0L922.8,367.3L911.8,367.3ZM917.3,369.3L922.8,362.0L911.8,362.0ZM921.3,353.6L926.8,360.8L915.8,360.8ZM921.3,362.8L926.8,355.6L915.8,355.6ZM926.2,353.7L931.7,360.9L920.7,360.9ZM926.2,362.9L931.7,355.7L920.7,355.7ZM930.5,346.6L936.0,353.8L925.0,353.8ZM930.5,355.8L936.0,348.6L925.0,348.6ZM935.1,344.7L940.6,352.0L929.6,352.0ZM935.1,354.0L940.6,346.7L929.6,346.7ZM940.5,342.0L946.0,349.3L935.0,349.3ZM940.5,351.2L946.0,344.0L935.0,344.0ZM944.8,334.8L950.3,342.1L939.3,342.1ZM944.8,344.1L950.3,336.8L939.3,336.8ZM949.7,334.1L955.2,341.4L944.2,341.4ZM949.7,343.4L955.2,336.1L944.2,336.1ZM953.7,330.3L959.2,337.6L948.2,337.6ZM953.7,339.6L959.2,332.3L948.2,332.3ZM957.8,328.0L963.3,335.3L952.3,335.3ZM957.8,337.3L963.3,330.0L952.3,330.0ZM962.8,322.8L968.3,330.1L957.3,330.1ZM962.8,332.0L968.3,324.8L957.3,324.8ZM968.4,319.7L973.9,326.9L962.9,326.9ZM968.4,328.9L973.9,321.7L962.9,321.7ZM971.6,315.9L977.1,323.1L966.1,323.1ZM971.6,325.1L977.1,317.8L966.1,317.8ZM976.8,313.2L982.3,320.4L971.3,320.4ZM976.8,322.4L982.3,315.2L971.3,315.2Z" fill="none" stroke="#0000ff" stroke-width="1.9"/>
<path d="M200.1,737.9h7.0v7.0h-7.0ZM204.5,737.4h7.0v7.0h-7.0ZM209.1,734.7h7.0v7.0h-7.0ZM212.4,732.0h7.0v7.0h-7.0ZM216.4,731.4h7.0v7.0h-7.0ZM220.4,730.2h7.0v7.0h-7.0ZM224.4,732.0h7.0v7.0h-7.0ZM228.5,729.8h7.0v7.0h-7.0ZM231.5,728.9h7.0v7.0h-7.0ZM236.8,726.5h7.0v7.0h-7.0ZM241.4,726.1h7.0v7.0h-7.0ZM243.9,722.8h7.0v7.0h-7.0ZM248.6,719.5h7.0v7.0h-7.0ZM251.9,718.2h7.0v7.0h-7.0ZM256.4,718.8h7.0v7.0h-7.0ZM261.3,720.4h7.0v7.0h-7.0ZM264.6,718.3h7.0v7.0h-7.0ZM268.4,719.5h7.0v7.0h-7.0ZM272.5,717.0h7.0v7.0h-7.0ZM276.3,713.4h7.0v7.0h-7.0ZM280.7,714.3h7.0v7.0h-7.0ZM284.9,712.8h7.0v7.0h-7.0ZM288.8,711.4h7.0v7.0h-7.0ZM292.7,707.8h7.0v7.0h-7.0ZM296.6,708.6h7.0v7.0h-7.0ZM300.0,705.9h7.0v7.0h-7.0ZM304.3,705.1h7.0v7.0h-7.0ZM308.5,705.2h7.0v7.0h-7.0ZM312.9,702.8h7.0v7.0h-7.0ZM316.4,702.8h7.0v7.0h-7.0ZM320.8,701.5h7.0v7.0h-7.0ZM324.8,701.2h7.0v7.0h-7.0ZM328.6,700.8h7.0v7.0h-7.0ZM332.1,698.4h7.0v7.0h-7.0ZM336.4,696.3h7.0v7.0h-7.0ZM340.6,695.6h7.0v7.0h-7.0ZM344.5,695.3h7.0v7.0h-7.0ZM349.0,690.1h7.0v7.0h-7.0ZM352.5,690.1h7.0v7.0h-7.0ZM356.1,692.5h7.0v7.0h-7.0ZM361.5,690.6h7.0v7.0h-7.0ZM364.4,690.2h7.0v7.0h-7.0ZM368.9,688.8h7.0v7.0h-7.0ZM372.3,688.1h7.0v7.0h-7.0ZM376.2,684.2h7.0v7.0h-7.0ZM380.6,684.6h7.0v7.0h-7.0ZM384.4,683.4h7.0v7.0h-7.0ZM388.9,683.6h7.0v7.0h-7.0ZM393.1,680.0h7.0v7.0h-7.0ZM395.8,682.6h7.0v7.0h-7.0ZM399.9,680.6h7.0v7.0h-7.0ZM404.9,680.6h7.0v7.0h-7.0ZM407.9,678.9h7.0v7.0h-7.0ZM412.6,680.7h7.0v7.0h-7.0ZM416.8,679.1h7.0v7.0h-7.0ZM420.6,676.7h7.0v7.0h-7.0ZM423.8,675.8h7.0v7.0h-7.0ZM428.5,676.0h7.0v7.0h-7.0ZM432.5,673.9h7.0v7.0h-7.0ZM437.1,673.8h7.0v7.0h-7.0ZM441.1,674.1h7.0v7.0h-7.0ZM445.2,671.5h7.0v7.0h-7.0ZM448.1,669.3h7.0v7.0h-7.0ZM452.7,670.0h7.0v7.0h-7.0ZM456.6,667.0h7.0v7.0h-7.0ZM460.3,666.5h7.0v7.0h-7.0ZM464.2,662.6h7.0v7.0h-7.0ZM468.0,664.1h7.0v7.0h-7.0ZM472.3,663.2h7.0v7.0h-7.0ZM476.2,659.2h7.0v7.0h-7.0ZM479.7,658.7h7.0v7.0h-7.0ZM484.9,656.2h7.0v7.0h-7.0ZM488.2,655.4h7.0v7.0h-7.0ZM492.8,656.5h7.0v7.0h-7.0ZM495.9,654.5h7.0v7.0h-7.0ZM500.1,652.1h7.0v7.0h-7.0ZM504.2,651.0h7.0v7.0h-7.0ZM508.7,647.7h7.0v7.0h-7.0ZM512.1,650.0h7.0v7.0h-7.0ZM517.0,647.4h7.0v7.0h-7.0ZM521.1,647.4h7.0v7.0h-7.0ZM524.9,645.3h7.0v7.0h-7.0ZM528.3,643.2h7.0v7.0h-7.0ZM532.7,643.0h7.0v7.0h-7.0ZM537.0,639.0h7.0v7.0h-7.0ZM540.0,642.2h7.0v7.0h-7.0ZM545.3,642.2h7.0v7.0h-7.0ZM548.4,638.6h7.0v7.0h-7.0ZM552.5,638.7h7.0v7.0h-7.0ZM556.3,636.2h7.0v7.0h-7.0ZM561.1,634.7h7.0v7.0h-7.0ZM564.6,633.0h7.0v7.0h-7.0ZM568.7,632.3h7.0v7.0h-7.0ZM572.7,633.5h7.0v7.0h-7.0ZM576.6,628.2h7.0v7.0h-7.0ZM580.2,631.5h7.0v7.0h-7.0ZM583.8,628.4h7.0v7.0h-7.0ZM588.3,626.3h7.0v7.0h-7.0ZM592.2,626.3h7.0v7.0h-7.0ZM596.3,625.0h7.0v7.0h-7.0ZM600.6,625.0h7.0v7.0h-7.0ZM604.4,626.2h7.0v7.0h-7.0ZM608.9,625.7h7.0v7.0h-7.0ZM612.3,620.0h7.0v7.0h-7.0ZM616.2,614.9h7.0v7.0h-7.0ZM621.1,609.9h7.0v7.0h-7.0ZM625.1,607.1h7.0v7.0h-7.0ZM629.5,602.4h7.0v7.0h-7.0ZM632.2,599.2h7.0v7.0h-7.0ZM636.6,597.4h7.0v7.0h-7.0ZM640.7,595.1h7.0v7.0h-7.0ZM644.9,592.5h7.0v7.0h-7.0ZM648.1,590.4h7.0v7.0h-7.0ZM652.7,586.6h7.0v7.0h-7.0ZM657.1,586.0h7.0v7.0h-7.0ZM659.7,581.8h7.0v7.0h-7.0ZM664.4,579.4h7.0v7.0h-7.0ZM668.4,578.7h7.0v7.0h-7.0ZM672.5,575.1h7.0v7.0h-7.0ZM675.7,572.9h7.0v7.0h-7.0ZM680.5,572.7h7.0v7.0h-7.0ZM684.1,567.9h7.0v7.0h-7.0ZM688.8,563.8h7.0v7.0h-7.0ZM692.1,562.9h7.0v7.0h-7.0ZM696.6,562.1h7.0v7.0h-7.0ZM700.0,555.5h7.0v7.0h-7.0ZM704.5,555.9h7.0v7.0h-7.0ZM708.4,555.1h7.0v7.0h-7.0ZM713.2,551.1h7.0v7.0h-7.0ZM715.8,550.9h7.0v7.0h-7.0ZM720.9,548.0h7.0v7.0h-7.0ZM724.7,545.8h7.0v7.0h-7.0ZM728.1,543.3h7.0v7.0h-7.0ZM731.4,540.3h7.0v7.0h-7.0ZM735.9,537.2h7.0v7.0h-7.0ZM740.3,537.1h7.0v7.0h-7.0ZM744.0,533.4h7.0v7.0h-7.0ZM748.9,533.2h7.0v7.0h-7.0ZM752.6,530.2h7.0v7.0h-7.0ZM757.0,526.6h7.0v7.0h-7.0ZM759.9,522.9h7.0v7.0h-7.0ZM764.1,521.6h7.0v7.0h-7.0ZM768.0,519.2h7.0v7.0h-7.0ZM772.3,516.7h7.0v7.0h-7.0ZM776.3,514.8h7.0v7.0h-7.0ZM780.6,513.1h7.0v7.0h-7.0ZM784.2,508.9h7.0v7.0h-7.0ZM788.2,506.1h7.0v7.0h-7.0ZM792.9,505.4h7.0v7.0h-7.0ZM795.9,504.6h7.0v7.0h-7.0ZM800.7,501.5h7.0v7.0h-7.0ZM804.7,497.9h7.0v7.0h-7.0ZM808.3,495.8h7.0v7.0h-7.0ZM811.7,492.8h7.0v7.0h-7.0ZM816.4,490.8h7.0v7.0h-7.0ZM820.3,487.0h7.0v7.0h-7.0ZM824.6,484.5h7.0v7.0h-7.0ZM829.3,483.2h7.0v7.0h-7.0ZM832.9,483.9h7.0v7.0h-7.0ZM836.4,479.8h7.0v7.0h-7.0ZM840.2,476.9h7.0v7.0h-7.0ZM844.3,476.3h7.0v7.0h-7.0ZM848.3,472.2h7.0v7.0h-7.0ZM851.6,468.2h7.0v7.0h-7.0ZM857.5,467.7h7.0v7.0h-7.0ZM861.1,465.4h7.0v7.0h-7.0ZM864.4,463.7h7.0v7.0h-7.0ZM868.9,462.8h7.0v7.0h-7.0ZM872.5,459.3h7.0v7.0h-7.0ZM875.9,458.1h7.0v7.0h-7.0ZM881.1,456.4h7.0v7.0h-7.0ZM884.2,453.6h7.0v7.0h-7.0ZM889.0,448.2h7.0v7.0h-7.0ZM892.2,447.7h7.0v7.0h-7.0ZM896.9,448.9h7.0v7.0h-7.0ZM900.2,441.2h7.0v7.0h-7.0ZM904.4,443.9h7.0v7.0h-7.0ZM907.7,438.4h7.0v7.0h-7.0ZM912.9,435.9h7.0v7.0h-7.0ZM916.6,432.5h7.0v7.0h-7.0ZM920.5,432.3h7.0v7.0h-7.0ZM924.8,429.4h7.0v7.0h-7.0ZM928.7,427.8h7.0v7.0h-7.0ZM932.2,421.8h7.0v7.0h-7.0ZM935.9,423.1h7.0v7.0h-7.0ZM940.4,416.3h7.0v7.0h-7.0ZM944.3,414.1h7.0v7.0h-7.0ZM948.8,415.4h7.0v7.0h-7.0ZM952.1,409.1h7.0v7.0h-7.0ZM956.5,407.4h7.0v7.0h-7.0ZM960.1,405.6h7.0v7.0h-7.0ZM964.5,404.2h7.0v7.0h-7.0ZM968.1,397.3h7.0v7.0h-7.0ZM972.0,396.0h7.0v7.0h-7.0Z" fill="none" stroke="#ff00ff" stroke-width="2.3"/>
<path d="M200.7,740.9h7.0v7.0h-7.0ZM204.6,741.0h7.0v7.0h-7.0ZM209.6,737.4h7.0v7.0h-7.0ZM214.1,737.2h7.0v7.0h-7.0ZM218.5,736.6h7.0v7.0h-7.0ZM222.2,733.3h7.0v7.0h-7.0ZM226.9,731.9h7.0v7.0h-7.0ZM231.6,732.8h7.0v7.0h-7.0ZM235.6,729.2h7.0v7.0h-7.0ZM240.7,727.3h7.0v7.0h-7.0ZM243.6,727.8h7.0v7.0h-7.0ZM249.0,725.3h7.0v7.0h-7.0ZM253.4,724.1h7.0v7.0h-7.0ZM256.8,720.5h7.0v7.0h-7.0ZM262.0,720.6h7.0v7.0h-7.0ZM267.2,717.7h7.0v7.0h-7.0ZM271.4,717.8h7.0v7.0h-7.0ZM275.1,713.4h7.0v7.0h-7.0ZM279.8,713.1h7.0v7.0h-7.0ZM284.1,713.3h7.0v7.0h-7.0ZM288.9,712.7h7.0v7.0h-7.0ZM293.0,710.8h7.0v7.0h-7.0ZM296.7,710.8h7.0v7.0h-7.0ZM301.9,705.5h7.0v7.0h-7.0ZM305.2,706.9h7.0v7.0h-7.0ZM309.9,704.4h7.0v7.0h-7.0ZM315.1,704.3h7.0v7.0h-7.0ZM319.1,702.8h7.0v7.0h-7.0ZM323.9,701.0h7.0v7.0h-7.0ZM328.0,699.5h7.0v7.0h-7.0ZM332.7,700.6h7.0v7.0h-7.0ZM337.5,699.6h7.0v7.0h-7.0ZM341.6,695.8h7.0v7.0h-7.0ZM346.0,696.3h7.0v7.0h-7.0ZM350.2,691.9h7.0v7.0h-7.0ZM354.3,690.8h7.0v7.0h-7.0ZM359.0,690.5h7.0v7.0h-7.0ZM363.8,687.6h7.0v7.0h-7.0ZM368.1,688.4h7.0v7.0h-7.0ZM372.3,688.1h7.0v7.0h-7.0ZM376.9,686.2h7.0v7.0h-7.0ZM381.7,686.4h7.0v7.0h-7.0ZM385.6,686.5h7.0v7.0h-7.0ZM389.4,682.6h7.0v7.0h-7.0ZM394.4,682.3h7.0v7.0h-7.0ZM399.4,682.9h7.0v7.0h-7.0ZM403.1,680.3h7.0v7.0h-7.0ZM407.3,678.7h7.0v7.0h-7.0ZM411.7,677.9h7.0v7.0h-7.0ZM416.1,676.2h7.0v7.0h-7.0ZM420.1,676.5h7.0v7.0h-7.0ZM425.1,675.7h7.0v7.0h-7.0ZM429.2,672.4h7.0v7.0h-7.0ZM433.6,673.6h7.0v7.0h-7.0ZM438.2,670.5h7.0v7.0h-7.0ZM442.5,667.4h7.0v7.0h-7.0ZM446.5,665.9h7.0v7.0h-7.0ZM451.3,664.6h7.0v7.0h-7.0ZM455.3,664.6h7.0v7.0h-7.0ZM460.2,662.8h7.0v7.0h-7.0ZM463.8,662.4h7.0v7.0h-7.0ZM469.3,659.7h7.0v7.0h-7.0ZM473.1,658.6h7.0v7.0h-7.0ZM477.5,658.9h7.0v7.0h-7.0ZM482.5,654.9h7.0v7.0h-7.0ZM486.0,655.2h7.0v7.0h-7.0ZM491.3,655.2h7.0v7.0h-7.0ZM495.0,650.9h7.0v7.0h-7.0ZM500.2,650.8h7.0v7.0h-7.0ZM504.5,652.4h7.0v7.0h-7.0ZM508.5,648.4h7.0v7.0h-7.0ZM513.2,648.0h7.0v7.0h-7.0ZM517.5,646.6h7.0v7.0h-7.0ZM521.9,646.9h7.0v7.0h-7.0ZM525.8,643.3h7.0v7.0h-7.0ZM530.1,642.9h7.0v7.0h-7.0ZM534.7,640.8h7.0v7.0h-7.0ZM539.5,638.6h7.0v7.0h-7.0ZM543.7,637.0h7.0v7.0h-7.0ZM547.9,637.1h7.0v7.0h-7.0ZM552.1,633.2h7.0v7.0h-7.0ZM556.9,634.9h7.0v7.0h-7.0ZM560.5,633.0h7.0v7.0h-7.0ZM566.0,630.5h7.0v7.0h-7.0ZM570.7,625.7h7.0v7.0h-7.0ZM574.5,625.4h7.0v7.0h-7.0ZM579.3,622.5h7.0v7.0h-7.0ZM583.6,621.9h7.0v7.0h-7.0ZM587.9,623.0h7.0v7.0h-7.0ZM592.1,621.0h7.0v7.0h-7.0ZM596.2,620.0h7.0v7.0h-7.0ZM600.5,619.0h7.0v7.0h-7.0ZM605.3,618.5h7.0v7.0h-7.0ZM610.2,616.9h7.0v7.0h-7.0ZM613.3,616.3h7.0v7.0h-7.0ZM618.3,613.9h7.0v7.0h-7.0ZM622.6,611.9h7.0v7.0h-7.0ZM627.1,609.1h7.0v7.0h-7.0ZM631.6,607.2h7.0v7.0h-7.0ZM635.9,607.2h7.0v7.0h-7.0ZM640.9,608.0h7.0v7.0h-7.0ZM644.8,605.8h7.0v7.0h-7.0ZM649.3,604.6h7.0v7.0h-7.0ZM653.6,604.1h7.0v7.0h-7.0ZM658.4,602.1h7.0v7.0h-7.0ZM662.8,601.6h7.0v7.0h-7.0ZM666.7,596.9h7.0v7.0h-7.0ZM670.8,598.4h7.0v7.0h-7.0ZM675.4,594.1h7.0v7.0h-7.0ZM680.2,593.8h7.0v7.0h-7.0ZM684.9,590.8h7.0v7.0h-7.0ZM689.1,590.5h7.0v7.0h-7.0ZM693.1,587.0h7.0v7.0h-7.0ZM697.5,589.3h7.0v7.0h-7.0ZM702.2,585.4h7.0v7.0h-7.0ZM706.9,582.8h7.0v7.0h-7.0ZM711.1,580.3h7.0v7.0h-7.0ZM715.9,581.0h7.0v7.0h-7.0ZM720.0,579.6h7.0v7.0h-7.0ZM723.5,578.6h7.0v7.0h-7.0ZM728.1,576.0h7.0v7.0h-7.0ZM732.9,572.5h7.0v7.0h-7.0ZM736.7,573.0h7.0v7.0h-7.0ZM741.7,571.5h7.0v7.0h-7.0ZM745.6,570.9h7.0v7.0h-7.0ZM750.1,568.4h7.0v7.0h-7.0ZM754.1,567.8h7.0v7.0h-7.0ZM758.9,565.1h7.0v7.0h-7.0ZM763.4,564.5h7.0v7.0h-7.0ZM767.8,563.7h7.0v7.0h-7.0ZM771.7,562.3h7.0v7.0h-7.0ZM777.0,559.9h7.0v7.0h-7.0ZM781.7,559.8h7.0v7.0h-7.0ZM786.0,557.1h7.0v7.0h-7.0ZM789.5,556.9h7.0v7.0h-7.0ZM793.7,554.5h7.0v7.0h-7.0ZM798.9,554.3h7.0v7.0h-7.0ZM803.9,551.9h7.0v7.0h-7.0ZM807.4,547.2h7.0v7.0h-7.0ZM811.9,549.3h7.0v7.0h-7.0ZM816.9,547.2h7.0v7.0h-7.0ZM820.7,548.7h7.0v7.0h-7.0ZM825.5,545.8h7.0v7.0h-7.0ZM829.0,544.1h7.0v7.0h-7.0ZM834.0,542.9h7.0v7.0h-7.0ZM838.9,540.5h7.0v7.0h-7.0ZM842.8,536.9h7.0v7.0h-7.0ZM848.0,538.8h7.0v7.0h-7.0ZM851.7,536.1h7.0v7.0h-7.0ZM856.6,534.9h7.0v7.0h-7.0ZM860.2,534.1h7.0v7.0h-7.0ZM864.4,533.0h7.0v7.0h-7.0ZM869.5,531.2h7.0v7.0h-7.0ZM872.9,528.1h7.0v7.0h-7.0ZM878.0,529.0h7.0v7.0h-7.0ZM882.3,528.0h7.0v7.0h-7.0ZM886.9,527.3h7.0v7.0h-7.0ZM891.2,523.5h7.0v7.0h-7.0ZM895.7,521.0h7.0v7.0h-7.0ZM898.8,521.9h7.0v7.0h-7.0ZM904.3,517.0h7.0v7.0h-7.0ZM908.9,516.7h7.0v7.0h-7.0ZM913.4,514.6h7.0v7.0h-7.0ZM917.2,510.9h7.0v7.0h-7.0ZM922.1,509.0h7.0v7.0h-7.0ZM926.4,506.2h7.0v7.0h-7.0ZM931.2,505.3h7.0v7.0h-7.0ZM935.0,505.4h7.0v7.0h-7.0ZM939.8,501.2h7.0v7.0h-7.0ZM943.2,502.7h7.0v7.0h-7.0ZM948.7,498.5h7.0v7.0h-7.0ZM953.6,498.9h7.0v7.0h-7.0ZM958.1,495.9h7.0v7.0h-7.0ZM960.9,494.9h7.0v7.0h-7.0ZM966.1,491.0h7.0v7.0h-7.0ZM970.4,493.6h7.0v7.0h-7.0Z" fill="none" stroke="#000000" stroke-width="1.9"/>
<path d="M204.8,745.3L209.3,737.2L200.3,737.2ZM208.2,744.1L212.7,736.0L203.7,736.0ZM212.6,742.6L217.1,734.5L208.1,734.5ZM216.4,742.0L220.9,733.9L211.9,733.9ZM220.7,739.6L225.2,731.5L216.2,731.5ZM225.5,739.5L230.0,731.4L221.0,731.4ZM229.4,738.0L233.9,729.9L224.9,729.9ZM233.4,738.2L237.9,730.1L228.9,730.1ZM237.3,735.4L241.8,727.3L232.8,727.3ZM242.1,736.5L246.6,728.4L237.6,728.4ZM245.8,734.0L250.3,725.9L241.3,725.9ZM250.3,732.0L254.8,723.9L245.8,723.9ZM254.9,728.4L259.4,720.3L250.4,720.3ZM258.9,729.5L263.4,721.4L254.4,721.4ZM262.8,726.5L267.3,718.4L258.3,718.4ZM266.9,725.8L271.4,717.7L262.4,717.7ZM270.9,725.2L275.4,717.1L266.4,717.1ZM275.2,723.0L279.7,714.9L270.7,714.9ZM279.5,721.3L284.0,713.2L275.0,713.2ZM283.7,718.9L288.2,710.8L279.2,710.8ZM288.4,717.5L292.9,709.4L283.9,709.4ZM292.1,716.8L296.6,708.7L287.6,708.7ZM297.1,717.3L301.6,709.2L292.6,709.2ZM301.0,716.4L305.5,708.3L296.5,708.3ZM305.2,713.2L309.7,705.1L300.7,705.1ZM308.9,713.3L313.4,705.2L304.4,705.2ZM313.7,713.3L318.2,705.2L309.2,705.2ZM318.0,711.8L322.5,703.7L313.5,703.7ZM321.1,710.7L325.6,702.6L316.6,702.6ZM326.4,708.8L330.9,700.7L321.9,700.7ZM329.7,706.4L334.2,698.3L325.2,698.3ZM334.1,706.1L338.6,698.0L329.6,698.0ZM338.1,704.3L342.6,696.2L333.6,696.2ZM343.3,701.8L347.8,693.7L338.8,693.7ZM346.2,701.8L350.7,693.7L341.7,693.7ZM351.1,701.0L355.6,692.9L346.6,692.9ZM355.6,699.6L360.1,691.5L351.1,691.5ZM359.2,699.4L363.7,691.3L354.7,691.3ZM363.2,698.4L367.7,690.3L358.7,690.3ZM367.2,695.4L371.7,687.3L362.7,687.3ZM372.0,695.3L376.5,687.2L367.5,687.2ZM376.2,692.7L380.7,684.6L371.7,684.6ZM380.0,694.3L384.5,686.2L375.5,686.2ZM385.1,692.8L389.6,684.7L380.6,684.7ZM389.7,692.7L394.2,684.6L385.2,684.6ZM392.9,690.3L397.4,682.2L388.4,682.2ZM396.4,689.2L400.9,681.1L391.9,681.1ZM401.8,688.7L406.3,680.6L397.3,680.6ZM405.3,688.6L409.8,680.5L400.8,680.5ZM409.5,683.7L414.0,675.6L405.0,675.6ZM414.2,686.3L418.7,678.2L409.7,678.2ZM418.4,683.8L422.9,675.7L413.9,675.7ZM422.3,682.0L426.8,673.9L417.8,673.9ZM426.6,678.3L431.1,670.2L422.1,670.2ZM430.7,681.4L435.2,673.3L426.2,673.3ZM435.4,677.8L439.9,669.7L430.9,669.7ZM439.3,676.2L443.8,668.1L434.8,668.1ZM443.2,676.0L447.7,667.9L438.7,667.9ZM447.9,673.4L452.4,665.3L443.4,665.3ZM452.1,671.4L456.6,663.3L447.6,663.3ZM456.8,669.4L461.3,661.3L452.3,661.3ZM459.8,670.6L464.3,662.5L455.3,662.5ZM464.2,666.9L468.7,658.8L459.7,658.8ZM468.2,669.4L472.7,661.3L463.7,661.3ZM472.0,666.2L476.5,658.1L467.5,658.1ZM476.8,665.5L481.3,657.4L472.3,657.4ZM481.3,664.6L485.8,656.5L476.8,656.5ZM485.2,664.3L489.7,656.2L480.7,656.2ZM490.0,660.6L494.5,652.5L485.5,652.5ZM493.9,660.1L498.4,652.0L489.4,652.0ZM498.0,660.2L502.5,652.1L493.5,652.1ZM502.7,658.4L507.2,650.3L498.2,650.3ZM506.7,657.0L511.2,648.9L502.2,648.9ZM510.6,654.5L515.1,646.4L506.1,646.4ZM514.5,654.3L519.0,646.2L510.0,646.2ZM518.8,648.6L523.3,640.5L514.3,640.5ZM523.4,649.0L527.9,640.9L518.9,640.9ZM527.6,649.0L532.1,640.9L523.1,640.9ZM532.1,647.6L536.6,639.5L527.6,639.5ZM536.1,644.0L540.6,635.9L531.6,635.9ZM539.4,646.6L543.9,638.5L534.9,638.5ZM544.4,644.5L548.9,636.4L539.9,636.4ZM548.8,640.8L553.3,632.7L544.3,632.7ZM552.6,641.3L557.1,633.2L548.1,633.2ZM556.6,636.7L561.1,628.6L552.1,628.6ZM561.8,635.4L566.3,627.3L557.3,627.3ZM565.2,633.5L569.7,625.4L560.7,625.4ZM569.3,634.6L573.8,626.5L564.8,626.5ZM573.4,631.9L577.9,623.8L568.9,623.8ZM577.9,630.5L582.4,622.4L573.4,622.4ZM582.1,627.5L586.6,619.4L577.6,619.4ZM586.6,626.8L591.1,618.7L582.1,618.7ZM590.0,625.0L594.5,616.9L585.5,616.9ZM594.2,624.8L598.7,616.7L589.7,616.7ZM599.2,621.0L603.7,612.9L594.7,612.9ZM603.2,617.8L607.7,609.7L598.7,609.7ZM607.6,617.8L612.1,609.7L603.1,609.7ZM611.5,615.9L616.0,607.8L607.0,607.8ZM616.0,614.5L620.5,606.4L611.5,606.4ZM620.5,614.3L625.0,606.2L616.0,606.2ZM623.9,613.7L628.4,605.6L619.4,605.6ZM628.0,610.5L632.5,602.4L623.5,602.4ZM632.9,608.6L637.4,600.5L628.4,600.5ZM636.4,607.9L640.9,599.8L631.9,599.8ZM641.5,605.3L646.0,597.2L637.0,597.2ZM644.8,605.8L649.3,597.7L640.3,597.7ZM649.5,605.3L654.0,597.2L645.0,597.2ZM653.0,603.2L657.5,595.1L648.5,595.1ZM657.4,600.0L661.9,591.9L652.9,591.9ZM662.2,600.5L666.7,592.4L657.7,592.4ZM666.5,600.1L671.0,592.0L662.0,592.0ZM669.9,597.5L674.4,589.4L665.4,589.4ZM674.4,594.0L678.9,585.9L669.9,585.9ZM679.0,595.8L683.5,587.7L674.5,587.7ZM682.7,592.9L687.2,584.8L678.2,584.8ZM686.3,591.9L690.8,583.8L681.8,583.8ZM691.0,588.5L695.5,580.4L686.5,580.4ZM696.0,588.0L700.5,579.9L691.5,579.9ZM700.1,588.7L704.6,580.6L695.6,580.6ZM704.3,585.4L708.8,577.3L699.8,577.3ZM707.8,583.2L712.3,575.1L703.3,575.1ZM712.2,581.1L716.7,573.0L707.7,573.0ZM716.5,582.0L721.0,573.9L712.0,573.9ZM720.5,579.7L725.0,571.6L716.0,571.6ZM724.4,577.8L728.9,569.7L719.9,569.7ZM729.7,574.2L734.2,566.1L725.2,566.1ZM733.8,574.1L738.3,566.0L729.3,566.0ZM737.1,572.7L741.6,564.6L732.6,564.6ZM741.9,569.4L746.4,561.3L737.4,561.3ZM745.8,564.2L750.3,556.1L741.3,556.1ZM749.9,564.6L754.4,556.5L745.4,556.5ZM754.9,561.3L759.4,553.2L750.4,553.2ZM758.1,560.1L762.6,552.0L753.6,552.0ZM762.9,559.8L767.4,551.7L758.4,551.7ZM766.9,556.0L771.4,547.9L762.4,547.9ZM771.2,555.8L775.7,547.7L766.7,547.7ZM775.8,552.3L780.3,544.2L771.3,544.2ZM779.8,550.7L784.3,542.6L775.3,542.6ZM782.9,546.7L787.4,538.6L778.4,538.6ZM787.7,545.3L792.2,537.2L783.2,537.2ZM792.0,540.9L796.5,532.8L787.5,532.8ZM796.5,540.8L801.0,532.7L792.0,532.7ZM800.0,539.2L804.5,531.1L795.5,531.1ZM804.8,537.5L809.3,529.4L800.3,529.4ZM808.4,536.1L812.9,528.0L803.9,528.0ZM813.2,533.9L817.7,525.8L808.7,525.8ZM817.1,532.2L821.6,524.1L812.6,524.1ZM820.9,531.6L825.4,523.5L816.4,523.5ZM825.8,527.6L830.3,519.5L821.3,519.5ZM829.8,526.5L834.3,518.4L825.3,518.4ZM834.3,520.3L838.8,512.2L829.8,512.2ZM838.0,521.4L842.5,513.3L833.5,513.3ZM842.9,517.9L847.4,509.8L838.4,509.8ZM845.6,516.9L850.1,508.8L841.1,508.8ZM850.8,512.8L855.3,504.7L846.3,504.7ZM855.5,508.4L860.0,500.3L851.0,500.3ZM858.8,504.9L863.3,496.8L854.3,496.8ZM863.6,504.1L868.1,496.0L859.1,496.0ZM867.4,501.7L871.9,493.6L862.9,493.6ZM871.8,499.5L876.3,491.4L867.3,491.4ZM875.7,494.0L880.2,485.9L871.2,485.9ZM880.5,491.6L885.0,483.5L876.0,483.5ZM885.5,488.4L890.0,480.3L881.0,480.3ZM888.6,487.4L893.1,479.3L884.1,479.3ZM893.0,484.8L897.5,476.7L888.5,476.7ZM896.6,483.7L901.1,475.6L892.1,475.6ZM901.1,479.9L905.6,471.8L896.6,471.8ZM905.3,478.4L909.8,470.3L900.8,470.3ZM909.1,475.3L913.6,467.2L904.6,467.2ZM914.3,472.6L918.8,464.5L909.8,464.5ZM918.1,470.4L922.6,462.3L913.6,462.3ZM921.8,463.7L926.3,455.6L917.3,455.6ZM926.8,461.2L931.3,453.1L922.3,453.1ZM930.9,461.6L935.4,453.5L926.4,453.5ZM934.9,457.9L939.4,449.8L930.4,449.8ZM938.9,456.0L943.4,447.9L934.4,447.9ZM943.4,451.5L947.9,443.4L938.9,443.4ZM947.2,447.4L951.7,439.3L942.7,439.3ZM950.6,445.9L955.1,437.8L946.1,437.8ZM956.1,443.5L960.6,435.4L951.6,435.4ZM960.2,440.1L964.7,432.0L955.7,432.0ZM964.6,439.9L969.1,431.8L960.1,431.8ZM968.3,436.5L972.8,428.4L963.8,428.4ZM972.4,434.9L976.9,426.8L967.9,426.8ZM976.5,430.0L981.0,421.9L972.0,421.9Z" fill="none" stroke="#008000" stroke-width="1.9"/>
</g>
<line x1="232.6" y1="637.8" x2="216.2" y2="672.4" stroke="#000" stroke-width="3.4" stroke-linecap="round"/>
<path d="M203.4,699.5L206.1,680.7L210.7,666.5L216.2,672.4L224.3,672.9L216.2,685.5Z" fill="#000" stroke="#000" stroke-width="1" stroke-linejoin="round"/>
<line x1="346.0" y1="636.5" x2="362.5" y2="659.6" stroke="#000" stroke-width="3.4" stroke-linecap="round"/>
<path d="M380.0,684.0L364.9,672.5L354.7,661.5L362.5,659.6L366.9,652.8L374.0,666.0Z" fill="#000" stroke="#000" stroke-width="1" stroke-linejoin="round"/>
<line x1="542.0" y1="561.0" x2="567.8" y2="589.3" stroke="#000" stroke-width="3.4" stroke-linecap="round"/>
<path d="M588.0,611.5L571.6,601.9L560.2,592.2L567.8,589.3L571.3,582.1L579.9,594.3Z" fill="#000" stroke="#000" stroke-width="1" stroke-linejoin="round"/>
<line x1="707.3" y1="498.8" x2="737.2" y2="530.4" stroke="#000" stroke-width="3.4" stroke-linecap="round"/>
<path d="M757.8,552.2L741.2,542.9L729.7,533.4L737.2,530.4L740.6,523.1L749.4,535.1Z" fill="#000" stroke="#000" stroke-width="1" stroke-linejoin="round"/>
<path d="M196.5,104.5V768.5H1173" fill="none" stroke="#333" stroke-width="3"/>
<path d="M208.8,768.5V780M322.6,768.5V775M436.3,768.5V780M550.0,768.5V775M663.8,768.5V780M777.5,768.5V775M891.3,768.5V780M1005.0,768.5V775M1118.8,768.5V780" stroke="#333" stroke-width="3"/>
<text y="830.3" font-size="50" ><tspan x="192.3">0</tspan></text>
<text y="830.3" font-size="50" ><tspan x="403.2 436.4">20</tspan></text>
<text y="830.3" font-size="50" ><tspan x="632.1 663.9">40</tspan></text>
<text y="830.3" font-size="50" ><tspan x="858.2 891.4">60</tspan></text>
<text y="830.3" font-size="50" ><tspan x="1086.0 1118.9">80</tspan></text>
<text y="148.3" font-size="50" ><tspan x="106.0 137.2 154.4">2.0</tspan></text>
<text y="306.2" font-size="50" ><tspan x="104.7 136.6 154.6">1.5</tspan></text>
<text y="465.5" font-size="50" ><tspan x="104.7 136.5 154.4">1.0</tspan></text>
<text y="623" font-size="50" ><tspan x="106.5 137.5 154.6">0.5</tspan></text>
<text y="781.5" font-size="50" ><tspan x="106.5 137.5 154.4">0.0</tspan></text>
<text y="894.1" font-size="52" ><tspan x="635.6 667.6 679.4 723.0 752.1 766.8 784.8 828.8 841.1 870.7">Time (min)</tspan></text>
<text y="0" font-size="53.5" transform="translate(81.4,665.3) rotate(-90)" ><tspan x="-4.4 28.1 39.9 69.5 99.0 116.7 146.3 172.9 199.5 229.1 258.7 285.3 314.8 329.6 347.2 376.8 391.5 421.1 435.8">Fluorescence (a.u.)</tspan></text>
<text y="143.8" font-size="50" ><tspan x="223.8 261.2 290.4 305.6 334.7 349.9 387.3 427.3 442.2 459.9 488.8 503.7 546.5 595.9">Deta/NO (1 mM)</tspan></text>
<text y="210.1" font-size="50" ><tspan x="224.1 253.0 281.9 299.6 328.5 357.4 386.3 415.2 430.1 445.1 463.2 492.0 520.8">paraquat (20 </tspan><tspan x="535.6" font-family="&quot;Liberation Serif&quot;, serif">μ</tspan><tspan x="563.8 610.9">M)</tspan></text>
<text y="275.4" font-size="50" ><tspan x="225.0 259.6 274.7 312.0 327.1 344.2 372.6 400.9 429.2">SIH (100 </tspan><tspan x="443.5" font-family="&quot;Liberation Serif&quot;, serif">μ</tspan><tspan x="473.5 522.5">M)</tspan></text>
<text y="130.3" font-size="50" ><tspan x="998.8 1028.6 1044.4 1088.0 1101.0">0 mim</tspan></text>
<text y="319.2" font-size="50" ><tspan x="995.6 1024.7 1053.7 1068.9 1111.8 1124.1">15 mim</tspan></text>
<text y="396.4" font-size="50" ><tspan x="993.8 1023.3 1052.9 1068.5 1111.9 1124.7">35 mim</tspan></text>
<text y="439.7" font-size="50" ><tspan x="993.7 1023.3 1052.8 1068.5 1111.9 1124.7">50 mim</tspan></text>
<text y="502.7" font-size="50" ><tspan x="1002.9 1021.2 1036.7 1071.1 1086.0">- SIH</tspan></text>
<text transform="translate(15.2,69.5) scale(0.92,1)" x="0" y="0" font-size="80">A</text>
<text transform="translate(1226.4,74.7) scale(0.96,1)" x="0" y="0" font-size="79">B</text>
<path d="M1477.5,108.5V813.7H2381" fill="none" stroke="#333" stroke-width="3"/>
<path d="M1466,108.5H1477.5M1466,343H1477.5M1466,577.5H1477.5M1466,813.7H1477.5" stroke="#333" stroke-width="3"/>
<path d="M1511,869H2360.5" stroke="#333" stroke-width="3"/>
<text y="122.3" font-size="48" ><tspan x="1360.3 1387.4 1401.1 1428.2">0.04</tspan></text>
<text y="357" font-size="48" ><tspan x="1360.3 1387.6 1401.6 1428.9">0.03</tspan></text>
<text y="591.5" font-size="48" ><tspan x="1360.3 1387.7 1401.8 1429.2">0.02</tspan></text>
<text y="827" font-size="48" ><tspan x="1360.3 1387.7 1401.8 1429.1">0.01</tspan></text>
<text y="854" font-size="49" ><tspan x="1526.6">0</tspan></text>
<text y="854" font-size="49" ><tspan x="1773.9 1797.8">15</tspan></text>
<text y="854" font-size="49" ><tspan x="2030.5 2058.4">35</tspan></text>
<text y="854" font-size="49" ><tspan x="2291.0 2317.5">50</tspan></text>
<text y="928.7" font-size="48" ><tspan x="1810.3 1837.4 1847.6 1890.5 1916.7 1929.5 1945.0 1987.7 1998.5 2027.9">Time (min)</tspan></text>
<text y="0" font-size="49.5" transform="translate(1257.5,688) rotate(-90)" ><tspan x="-4.1 31.5 58.7 72.3 99.6 113.1 140.4 153.9 167.4 180.9 191.7 219.0 246.3 262.5 289.8 314.3 338.9 366.2 393.5 418.0">Rate of fluorescence</tspan></text>
<text y="0" font-size="49.5" transform="translate(1321.2,659.5) rotate(-90)" ><tspan x="-3.3 7.5 34.8 59.4 75.7 103.0 130.3 154.9 182.2 195.8 212.1 239.4 253.0 280.3 293.9 307.4 348.4 359.3 386.6">increase (a.u./min)</tspan></text>
<path d="M1543.9,414.6V473.1M1537.4,414.6H1550.4M1537.4,473.1H1550.4" stroke="#000" stroke-width="3" fill="none"/>
<circle cx="1543.9" cy="443.5" r="7" fill="#000"/>
<path d="M1801.7,417.4V483.5M1795.2,417.4H1808.2M1795.2,483.5H1808.2" stroke="#000" stroke-width="3" fill="none"/>
<circle cx="1801.7" cy="451.1" r="7" fill="#000"/>
<path d="M2060.2,510.2V547.3M2053.7,510.2H2066.7M2053.7,547.3H2066.7" stroke="#000" stroke-width="3" fill="none"/>
<circle cx="2060.2" cy="528.1" r="7" fill="#000"/>
<path d="M2318,520.7V560.6M2311.5,520.7H2324.5M2311.5,560.6H2324.5" stroke="#000" stroke-width="3" fill="none"/>
<circle cx="2318" cy="539.2" r="7" fill="#000"/>
</svg>
</div></body></html>
